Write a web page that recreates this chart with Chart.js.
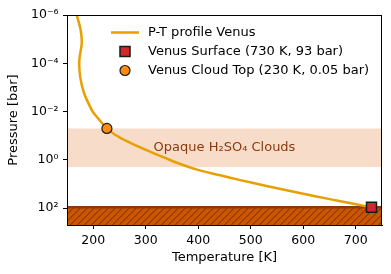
<!DOCTYPE html>
<html>
<head>
<meta charset="utf-8">
<script src="https://cdn.jsdelivr.net/npm/chart.js@4/dist/chart.umd.min.js"></script>
<style>
html,body{margin:0;padding:0;background:#fff;}
#wrap{width:391px;height:274px;position:relative;}
</style>
</head>
<body>
<div id="wrap"><canvas id="c"></canvas></div>
<script>
// ---- data ----
const profileT = [168.5, 176, 178, 173.5, 175, 182.4, 197, 203.4, 226, 241.6, 267, 299, 337, 359.4, 397.5, 442, 480, 530, 575, 625, 671, 730];
const profileP = [1e-6, 4.2e-6, 1.5e-5, 7.2e-5, 3.5e-4, 1.7e-3, 8.5e-3, 0.0136, 0.05, 0.091, 0.182, 0.379, 0.835, 1.32, 2.54, 4.37, 6.9, 12.1, 19.6, 32.9, 51.9, 93];
const surfaceT = [730];
const surfaceP = [93];
const cloudTopT = [226];
const cloudTopP = [0.05];
const cloudBand = [0.05, 2];
const surfaceBand = [93, 500];
const xTicks = [200, 300, 400, 500, 600, 700];
const yTicks = [1e-6, 1e-4, 1e-2, 1, 100];
const yTickLabels = ['10\u207B\u2076', '10\u207B\u2074', '10\u207B\u00B2', '10\u2070', '10\u00B2'];
const seriesNames = ['P-T profile Venus', 'Venus Surface (730 K, 93 bar)', 'Venus Cloud Top (230 K, 0.05 bar)'];
const cloudLabel = 'Opaque H\u2082SO\u2084 Clouds';
const cloudLabelT = 450;

Chart.defaults.font.family = "'DejaVu Sans', sans-serif";
Chart.defaults.font.size = 13;
Chart.defaults.color = '#000';

const LINE_COLOR = '#e8a000';

const decorPlugin = {
  id: 'decor',
  beforeDatasetsDraw(chart) {
    const {ctx, chartArea: a, scales: {x, y}} = chart;
    ctx.save();
    ctx.beginPath(); ctx.rect(a.left, a.top, a.right - a.left, a.bottom - a.top); ctx.clip();
    // cloud band
    const c1 = y.getPixelForValue(cloudBand[0]), c2 = y.getPixelForValue(cloudBand[1]);
    ctx.fillStyle = '#f7ddc9';
    ctx.fillRect(a.left, c1, a.right - a.left, c2 - c1);
    // surface band
    const s1 = y.getPixelForValue(surfaceBand[0]), s2 = y.getPixelForValue(surfaceBand[1]);
    ctx.fillStyle = '#cc5500';
    ctx.fillRect(a.left, s1, a.right - a.left, s2 - s1);
    ctx.save();
    ctx.beginPath(); ctx.rect(a.left, s1, a.right - a.left, s2 - s1); ctx.clip();
    ctx.strokeStyle = 'rgba(95,35,0,0.85)';
    ctx.lineWidth = 1;
    const h = s2 - s1;
    ctx.beginPath();
    for (let xx = a.left - h; xx < a.right + h; xx += 7) {
      ctx.moveTo(xx, s2); ctx.lineTo(xx + h, s1);
    }
    ctx.stroke();
    ctx.restore();
    ctx.strokeStyle = '#8b3a0a';
    ctx.lineWidth = 2.5;
    ctx.beginPath(); ctx.moveTo(a.left, s1); ctx.lineTo(a.right, s1); ctx.stroke();
    // cloud label
    const ly = y.getPixelForValue(Math.sqrt(cloudBand[0] * cloudBand[1]));
    ctx.fillStyle = '#8b3a0f';
    ctx.font = "13px 'DejaVu Sans'";
    ctx.textAlign = 'center';
    ctx.textBaseline = 'middle';
    ctx.fillText(cloudLabel, x.getPixelForValue(cloudLabelT), ly);
    ctx.restore();
  },
  afterDraw(chart) {
    const {ctx, chartArea: a} = chart;
    ctx.save();
    ctx.strokeStyle = '#000';
    ctx.lineWidth = 1;
    ctx.strokeRect(Math.round(a.left) + 0.5, Math.round(a.top) + 0.5, Math.round(a.right - a.left) - 1, Math.round(a.bottom - a.top));
    // legend
    const lx = 111, tx = 148;
    const rows = [32.5, 51.5, 70.5];
    ctx.font = "13px 'DejaVu Sans'";
    ctx.textBaseline = 'middle';
    ctx.textAlign = 'left';
    // line sample
    ctx.strokeStyle = LINE_COLOR; ctx.lineWidth = 2.5;
    ctx.beginPath(); ctx.moveTo(lx, rows[0]); ctx.lineTo(lx + 28, rows[0]); ctx.stroke();
    // square
    ctx.fillStyle = '#d62728'; ctx.strokeStyle = '#1a1a1a'; ctx.lineWidth = 1.5;
    ctx.fillRect(lx + 9, rows[1] - 5, 10, 10); ctx.strokeRect(lx + 9, rows[1] - 5, 10, 10);
    // circle
    ctx.fillStyle = '#ff8c0e'; ctx.lineWidth = 1.2;
    ctx.beginPath(); ctx.arc(lx + 14, rows[2], 5, 0, Math.PI * 2); ctx.fill(); ctx.stroke();
    ctx.fillStyle = '#000';
    seriesNames.forEach((n, i) => ctx.fillText(n, tx, rows[i] + 0.5));
    ctx.restore();
  }
};

new Chart(document.getElementById('c'), {
  type: 'scatter',
  data: {
    datasets: [
      {
        label: seriesNames[0],
        data: profileT.map((t, i) => ({x: t, y: profileP[i]})),
        showLine: true,
        borderColor: LINE_COLOR,
        borderWidth: 2.5,
        pointRadius: 0,
        tension: 0.3,
        order: 3
      },
      {
        label: seriesNames[1],
        data: surfaceT.map((t, i) => ({x: t, y: surfaceP[i]})),
        pointStyle: 'rect',
        pointRadius: 7.07,
        backgroundColor: '#d62728',
        borderColor: '#1a1a1a',
        borderWidth: 1.5,
        order: 1
      },
      {
        label: seriesNames[2],
        data: cloudTopT.map((t, i) => ({x: t, y: cloudTopP[i]})),
        pointStyle: 'circle',
        pointRadius: 5,
        backgroundColor: '#ff8c0e',
        borderColor: '#1a1a1a',
        borderWidth: 1.2,
        order: 2
      }
    ]
  },
  options: {
    responsive: true,
    maintainAspectRatio: false,
    animation: false,
    layout: {padding: {top: 15, right: 9, left: 0, bottom: 0}},
    plugins: {legend: {display: false}, tooltip: {enabled: false}},
    scales: {
      x: {
        type: 'linear',
        min: 150, max: 750,
        afterBuildTicks: s => { s.ticks = xTicks.map(v => ({value: v})); },
        afterFit: s => { s.height = 49; },
        grid: {display: true, drawOnChartArea: false, drawTicks: true, tickLength: 4, color: '#000'},
        border: {display: true, color: '#000', width: 1},
        ticks: {padding: 4, color: '#000', maxRotation: 0, font: {size: 12.5}, callback: v => String(v)},
        title: {display: true, text: 'Temperature [K]', color: '#000', font: {size: 13}, padding: {top: 0, bottom: 8.5}}
      },
      y: {
        type: 'logarithmic',
        reverse: true,
        min: 1e-6, max: 500,
        afterBuildTicks: s => { s.ticks = yTicks.map(v => ({value: v})); },
        afterFit: s => { s.width = 67; },
        grid: {display: true, drawOnChartArea: false, drawTicks: true, tickLength: 4, color: '#000'},
        border: {display: true, color: '#000', width: 1},
        ticks: {padding: 4.5, color: '#000', font: {size: 12.5}, callback: (v) => { const i = yTicks.indexOf(v); return i >= 0 ? yTickLabels[i] : ''; }},
        title: {display: true, text: 'Pressure [bar]', color: '#000', font: {size: 13}, padding: {top: 5.7, bottom: 0}}
      }
    }
  },
  plugins: [decorPlugin]
});
</script>
</body>
</html>
